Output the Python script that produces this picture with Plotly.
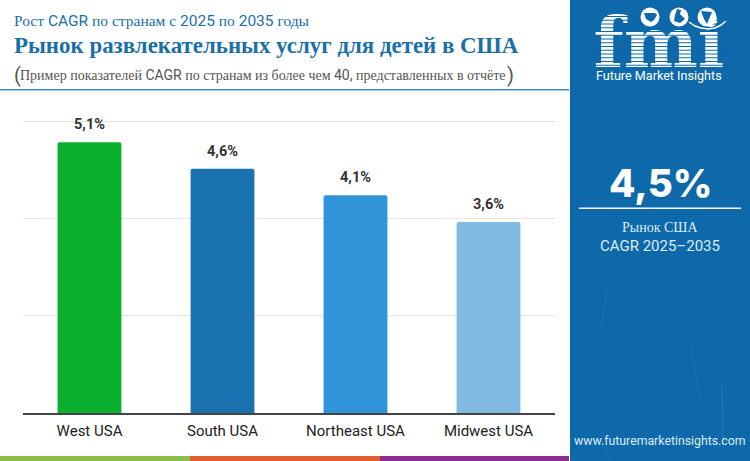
import plotly.graph_objects as go

regions = ["West USA", "South USA", "Northeast USA", "Midwest USA"]
cagr = [5.1, 4.6, 4.1, 3.6]
cagr_labels = ["5,1%", "4,6%", "4,1%", "3,6%"]
bar_colors = ["#0bb02f", "#1a73b0", "#3095d8", "#80bae2"]
grid_values = [0, 1.83, 3.67, 5.5]

SERIF = "Liberation Serif"
SANS = "Roboto"
PANEL = "#0d69a9"
TITLE_BLUE = "#1a6fa8"


def mix(parts, size=None):
    # cyrillic runs in serif, latin and digits in sans, like the original
    out = ""
    for txt, fam in parts:
        out += f'<span style="font-family:{fam}">{txt}</span>'
    return out


def label(x, y, text, size, color, family=SANS, anchor="left", bold=False, weight=None):
    font = dict(size=size, color=color, family=family)
    if weight:
        font["weight"] = weight
    return dict(xref="paper", yref="paper", x=x / 750, y=1 - y / 461, text=f"<b>{text}</b>" if bold else text,
                showarrow=False, xanchor=anchor, yanchor="middle", font=font)


def px_rect(x0, y0, x1, y1, color, layer="below"):
    return dict(type="rect", xref="paper", yref="paper", x0=x0 / 750, x1=x1 / 750, y0=1 - y0 / 461, y1=1 - y1 / 461,
                fillcolor=color, line_width=0, layer=layer)


def px_circle(cx, cy, r, color, layer="above"):
    return dict(type="circle", xref="paper", yref="paper", x0=(cx - r) / 750, x1=(cx + r) / 750,
                y0=1 - (cy + r) / 461, y1=1 - (cy - r) / 461, fillcolor=color, line_width=0, layer=layer)


def px_path(points, color, closed=True, width=0, layer="above"):
    # points are (x, y) in page pixels
    coords = [f"{x / 750} {1 - y / 461}" for x, y in points]
    path = "M " + " L ".join(coords) + (" Z" if closed else "")
    shape = dict(type="path", xref="paper", yref="paper", layer=layer, path=path)
    if closed:
        shape.update(fillcolor=color, line_width=0)
    else:
        shape.update(line=dict(color=color, width=width))
    return shape


fig = go.Figure()
fig.add_trace(go.Bar(x=regions, y=cagr, marker=dict(color=bar_colors, cornerradius=2, line_width=0),
                     hoverinfo="skip", showlegend=False))

# logo lettering sits on a hidden pixel axis so the stripes can be drawn over it
fig.add_trace(go.Scatter(x=[659], y=[49], text=["fmi"], mode="text", xaxis="x2", yaxis="y2", cliponaxis=False,
                         textposition="middle center", hoverinfo="skip", showlegend=False,
                         textfont=dict(size=70, color="white", family="DejaVu Serif", weight="bold")))

shapes = [
    px_rect(570, 0, 750, 461, PANEL),
    px_rect(0, 89, 569, 90.5, "#3a8dbf"),
    px_rect(0, 456, 190, 461, "#8cbf45"),
    px_rect(190, 456, 380, 461, "#e2602f"),
    px_rect(380, 456, 569, 461, "#8a2f8f"),
    px_rect(579, 207.5, 741, 209, "white"),
    # the top gridline breaks around the first value label
    px_rect(69, 117, 145, 125, "white", layer="between"),
    # faint streaks in the panel background
    px_path([(722, 385), (723, 440)], "rgba(255,255,255,0.10)", closed=False, width=1, layer="below"),
    px_path([(604, 445), (611, 461)], "rgba(255,255,255,0.08)", closed=False, width=1, layer="below"),
    px_path([(607, 290), (601, 330)], "rgba(255,255,255,0.06)", closed=False, width=1, layer="below"),
    px_path([(690, 340), (700, 400)], "rgba(255,255,255,0.05)", closed=False, width=1, layer="below"),
]
# stripes through the logo letters
for row in range(14):
    y = 16 + row * 3.75
    shapes.append(px_rect(592, y, 726, y + 1.1, PANEL, layer="above"))
# globes, their rough land masses and the arc under them
shapes += [
    px_circle(650, 17, 9.5, "white"),
    px_circle(679, 17, 9.5, "white"),
    px_circle(707, 17, 9.5, "white"),
    px_path([(644, 13), (655, 13), (657, 15), (654, 20), (651, 22), (646, 19)], PANEL),
    px_path([(677, 9), (681, 10), (680, 14), (685, 19), (680, 23), (674, 21), (675, 15)], PANEL),
    px_path([(701, 11), (712, 12), (709, 19), (707, 24), (704, 19)], PANEL),
    px_path([(689, 22), (695, 26), (701, 28), (708, 29), (715, 28), (721, 25), (726, 21)], "white", closed=False,
            width=1.5),
]

annotations = [
    label(12, 21, mix([("Рост ", SERIF), ("CAGR", SANS), (" по странам с ", SERIF), ("2025", SANS), (" по ", SERIF),
                       ("2035", SANS), (" годы", SERIF)]), 15.5, TITLE_BLUE),
    label(12, 45, "Рынок развлекательных услуг для детей в США", 22.9, TITLE_BLUE, SERIF, bold=True),
    label(12, 75, mix([("(", SANS)]), 20, "#555555"),
    label(18, 75, mix([("Пример показателей ", SERIF), ("CAGR", SANS), (" по странам из более чем ", SERIF),
                       ("40,", SANS), (" представленных в отчёте", SERIF)]), 14, "#555555"),
    label(505, 75, mix([(")", SANS)]), 20, "#555555"),
    label(659, 75, "Future Market Insights", 12.6, "white", anchor="center"),
    label(660, 183, "4,5%", 38.5, "white", "Inter", "center", weight=800),
    label(660, 227, "Рынок США", 14, "#dcecf7", SERIF, "center"),
    label(660, 246, "CAGR 2025–2035", 15, "#dcecf7", SANS, "center"),
    label(660, 441, "www.futuremarketinsights.com", 12.3, "#dcecf7", SANS, "center"),
]
for region, value, text in zip(regions, cagr, cagr_labels):
    annotations.append(dict(x=region, y=value, text=f"<b>{text}</b>", showarrow=False, yanchor="bottom", yshift=7,
                            font=dict(size=14.5, color="#333333", family=SANS)))

fig.update_layout(
    width=750, height=461, autosize=False,
    margin=dict(l=0, r=0, t=0, b=0),
    paper_bgcolor="white", plot_bgcolor="rgba(0,0,0,0)",
    bargap=0.52, shapes=shapes, annotations=annotations,
    xaxis=dict(domain=[23 / 750, 555 / 750], showgrid=False, showline=True, linecolor="#444444", linewidth=1.5,
               ticks="", tickfont=dict(size=15, color="#222222", family=SANS), ticklabelstandoff=3, fixedrange=True),
    yaxis=dict(domain=[48 / 461, 341 / 461], range=[0, 5.52], tickmode="array", tickvals=grid_values,
               showticklabels=False, showgrid=True, gridcolor="#e4e4e4", gridwidth=1, zeroline=False, ticks="",
               fixedrange=True),
    xaxis2=dict(domain=[0, 1], range=[0, 750], anchor="y2", visible=False, fixedrange=True),
    yaxis2=dict(domain=[0, 1], range=[461, 0], anchor="x2", visible=False, fixedrange=True),
)

# the default page margin would push the figure off the window
fig.write_html("out.html", config={"displayModeBar": False}, post_script="document.body.style.margin = '0';")
